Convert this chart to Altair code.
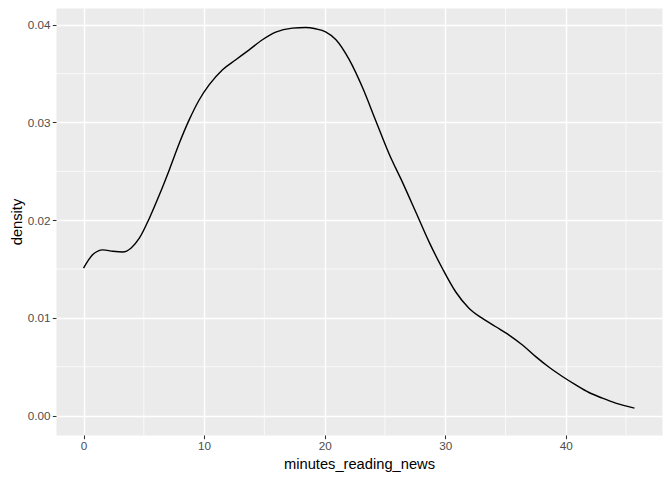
import altair as alt
import pandas as pd

# Density curve
minutes = [0.0, 0.77, 1.6, 2.43, 3.26, 3.95, 4.64, 5.47, 6.3, 7.12, 7.95, 8.77, 9.6,
           10.43, 11.53, 12.63, 13.74, 14.84, 15.94, 17.32, 18.43, 19.25, 20.08,
           20.94, 22.04, 23.15, 24.25, 25.36, 26.46, 27.57, 28.67, 29.78, 30.88,
           31.99, 33.09, 34.2, 35.3, 36.41, 37.51, 38.62, 39.72, 40.83, 41.93,
           43.04, 44.14, 45.7]
density = [0.0151, 0.01648, 0.01696, 0.01682, 0.01675, 0.01716, 0.01818, 0.02023,
           0.02262, 0.02517, 0.0279, 0.03029, 0.03233, 0.03387, 0.0354, 0.03642,
           0.03744, 0.03847, 0.03925, 0.03966, 0.03973, 0.03959, 0.03928,
           0.03847, 0.03643, 0.03355, 0.03015, 0.02675, 0.02387, 0.02081, 0.01775,
           0.01503, 0.01265, 0.01096, 0.00994, 0.00909, 0.00824, 0.00722, 0.00603,
           0.00494, 0.004, 0.00314, 0.00236, 0.00178, 0.00127, 0.00076]

x_major = [0, 10, 20, 30, 40]
x_minor = [5, 15, 25, 35, 45]
y_major = [0.0, 0.01, 0.02, 0.03, 0.04]
y_minor = [0.005, 0.015, 0.025, 0.035]

W, H = 606, 427
FONT = "Liberation Sans"

xs = alt.Scale(domain=[-2.285, 47.985], nice=False, zero=False)
ys = alt.Scale(domain=[-0.00199, 0.04172], nice=False, zero=False)

common = dict(domain=False, ticks=True, tickColor="#333333", tickSize=3.7, tickWidth=1.07,
              labelColor="#4D4D4D", labelFont=FONT, labelFontSize=11.7,
              titleFont=FONT, titleFontSize=14.7, titleColor="black", titleFontWeight="normal",
              grid=True, gridColor="white", gridWidth=1.42)

ax_x = alt.Axis(values=x_major, title="minutes_reading_news", format="d",
                labelPadding=2.2, titlePadding=4, **common)
ax_y = alt.Axis(values=y_major, title="density", format=".2f",
                labelPadding=2.2, titlePadding=3, **common)

df = pd.DataFrame({"minutes_reading_news": minutes, "density": density})

minor_x = alt.Chart(pd.DataFrame({"minutes_reading_news": x_minor})).mark_rule(
    color="white", strokeWidth=0.71
).encode(x=alt.X("minutes_reading_news:Q", scale=xs, axis=ax_x))

minor_y = alt.Chart(pd.DataFrame({"density": y_minor})).mark_rule(
    color="white", strokeWidth=0.71
).encode(y=alt.Y("density:Q", scale=ys, axis=ax_y))

line = alt.Chart(df).mark_line(color="black", strokeWidth=1.42, interpolate="monotone").encode(
    x=alt.X("minutes_reading_news:Q", scale=xs, axis=ax_x),
    y=alt.Y("density:Q", scale=ys, axis=ax_y),
)

chart = alt.layer(minor_x, minor_y, line).properties(
    width=W, height=H,
    autosize=alt.AutoSizeParams(type="none"),
    padding={"left": 48, "top": 0, "right": 2, "bottom": 37},
    background="white",
).configure_view(fill="#EBEBEB", stroke="transparent")

chart.save("out.html", embed_options={"renderer": "svg", "actions": False})
